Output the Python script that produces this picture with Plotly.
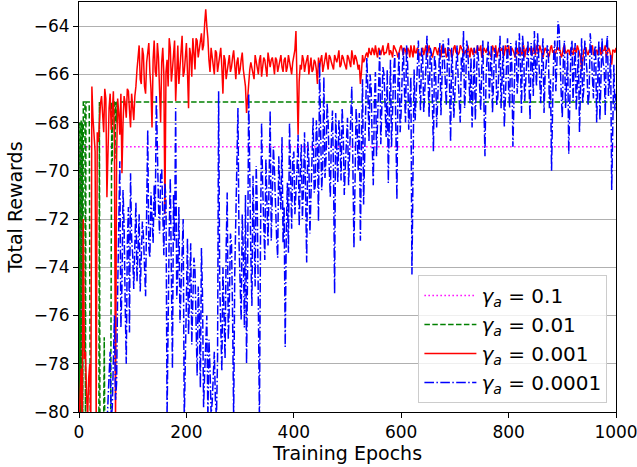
import plotly.graph_objects as go

STEP = 2

magenta_x = [0, 1, 2, 3, 4, 5, 6, 1000]
magenta_y = [-69.0, -80.5, -69.0, -80.5, -69.0, -80.5, -69.0, -69.0]

green_x = [0, 1, 2, 3, 4, 5, 6, 7, 8, 11, 12, 13, 19, 20, 21, 37, 38, 39, 46, 47, 48,
           59, 60, 61, 62, 63, 66, 67, 68, 70, 71, 78, 1000]
green_y = [-68.0, -80.5, -68.0, -80.5, -67.9, -80.5, -68.0, -80.5, -67.15, -67.15, -80.5,
           -67.15, -67.15, -76.0, -80.5, -80.5, -67.15, -80.5, -80.5, -76.9, -80.5,
           -80.5, -67.15, -67.15, -69.6, -67.15, -67.15, -69.5, -67.15, -68.0, -67.15,
           -67.15, -67.15]

# red, epochs 0, 4, 8, ... 1000
red_y_even = [
    -80.5, -78.2, -72.0, -77.5, -80.3, -78.0, -66.5, -68.7, -80.5, -68.8,
    -67.2, -68.0, -66.6, -71.1, -67.4, -68.3, -66.7, -80.5, -67.0, -68.5,
    -70.1, -66.9, -67.8, -66.7, -68.2, -67.3, -66.9, -65.8, -64.8, -66.4,
    -65.2, -66.8, -64.9, -65.9, -68.2, -64.6, -66.1, -65.3, -68.0, -64.9,
    -71.8, -65.4, -64.5, -66.3, -65.1, -67.1, -64.8, -65.6, -64.4, -65.9,
    -64.7, -67.4, -65.2, -64.5, -65.8, -64.6, -64.9, -64.3, -64.8, -63.3,
    -64.5, -65.9, -65.3, -66.0, -65.1, -65.6, -64.9, -66.8, -65.4, -65.9,
    -65.2, -65.7, -65.0, -66.2, -65.3, -65.8, -65.1, -66.1, -67.6, -66.3,
    -65.5, -66.0, -65.2, -65.8, -65.4, -66.1, -65.3, -65.9, -65.1, -65.7,
    -65.3, -66.0, -65.4, -65.6, -65.2, -65.9, -65.3, -65.7, -65.5, -66.0,
    -65.2, -64.2, -68.5, -65.6, -65.2, -65.9, -65.4, -66.0, -65.3, -65.8,
    -65.5, -66.4, -65.7, -65.2, -65.6, -65.1, -65.8, -65.3, -65.7, -65.2,
    -65.5, -65.0, -65.6, -65.3, -65.7, -65.2, -65.5, -65.0, -65.6, -65.3,
    -65.8, -66.4, -65.2, -65.4, -65.1, -64.9, -65.2, -65.0, -64.8, -65.3,
    -65.0, -64.9, -65.2, -65.1, -64.7, -65.0, -65.3, -64.9, -65.1, -65.0,
    -64.8, -65.2, -65.0, -64.9, -65.3, -65.0, -64.8, -65.1, -65.0, -65.2,
    -64.9, -65.0, -65.3, -64.8, -65.1, -65.0, -64.9, -65.2, -65.0, -64.8,
    -65.1, -65.3, -64.9, -65.0, -65.2, -64.8, -65.0, -65.1, -64.9, -65.2,
    -65.0, -64.8, -65.3, -65.0, -64.9, -65.1, -65.0, -64.8, -65.2, -65.0,
    -64.9, -65.1, -65.3, -65.0, -64.8, -65.1, -65.0, -64.9, -65.2, -65.0,
    -64.8, -65.1, -65.0, -65.3, -64.9, -65.0, -65.2, -64.8, -65.0, -65.1,
    -64.9, -65.2, -65.0, -64.8, -65.1, -65.0, -65.3, -64.9, -65.0, -65.2,
    -64.8, -65.0, -65.1, -64.9, -65.0, -65.2, -64.8, -65.1, -65.0, -64.9,
    -65.2, -65.0, -64.8, -65.1, -65.8, -65.0, -64.9, -65.2, -65.0, -64.8,
    -65.1, -65.0, -64.9, -65.2, -65.0, -64.8, -65.1, -65.0, -65.6, -65.0,
    -64.9,
]
# red, epochs 2, 6, 10, ... 998
red_y_odd = [
    -79.0, -80.5, -77.8, -79.2, -78.6, -80.4, -67.8, -69.2, -68.4, -67.9,
    -66.9, -68.4, -67.0, -68.9, -66.8, -67.6, -68.9, -69.5, -67.6, -66.8,
    -68.0, -67.2, -66.6, -67.5, -66.8, -67.9, -66.5, -65.3, -66.2, -64.9,
    -66.5, -65.5, -64.7, -66.6, -65.4, -65.9, -64.7, -66.7, -65.5, -66.0,
    -65.9, -66.5, -64.9, -65.8, -64.6, -65.7, -66.4, -65.0, -66.1, -65.3,
    -65.9, -64.9, -66.1, -65.1, -64.5, -65.3, -64.5, -65.0, -63.9, -64.0,
    -65.4, -64.9, -65.8, -65.0, -65.9, -65.2, -65.7, -65.2, -66.2, -65.4,
    -65.9, -65.3, -65.6, -65.5, -66.0, -65.4, -65.8, -66.5, -66.9, -65.8,
    -65.7, -66.2, -65.5, -66.0, -65.2, -65.7, -65.4, -66.1, -65.5, -65.4,
    -65.6, -65.3, -65.9, -65.4, -65.7, -65.4, -65.9, -65.2, -65.8, -65.5,
    -65.0, -66.0, -66.3, -65.8, -65.4, -65.6, -65.2, -65.5, -65.9, -65.4,
    -65.8, -65.3, -65.4, -65.9, -65.4, -65.5, -65.2, -65.5, -65.8, -65.4,
    -65.3, -65.7, -65.2, -65.5, -65.8, -65.3, -65.7, -65.4, -65.2, -65.5,
    -65.6, -65.9, -65.5, -65.2, -65.3, -65.1, -64.9, -65.2, -65.1, -64.9,
    -65.2, -64.8, -65.1, -64.9, -65.2, -65.1, -64.8, -65.0, -65.3, -64.9,
    -65.1, -64.9, -65.2, -65.0, -64.8, -65.3, -65.1, -64.9, -65.2, -65.0,
    -65.2, -64.8, -65.0, -65.1, -65.3, -64.9, -65.1, -64.9, -65.3, -65.1,
    -64.9, -65.2, -65.0, -65.3, -64.9, -65.1, -65.2, -64.8, -65.0, -65.1,
    -65.2, -65.0, -64.9, -65.2, -65.1, -64.8, -65.0, -65.3, -64.9, -65.1,
    -65.0, -65.2, -64.8, -65.1, -65.3, -64.9, -65.0, -65.2, -64.8, -65.1,
    -65.2, -64.9, -65.1, -65.0, -65.2, -64.9, -65.1, -65.3, -64.9, -65.0,
    -65.1, -64.9, -65.2, -65.0, -64.8, -65.2, -65.1, -65.0, -65.3, -64.9,
    -65.1, -65.2, -64.9, -65.0, -65.3, -64.9, -65.1, -65.0, -65.2, -65.1,
    -64.9, -65.1, -65.0, -65.3, -65.2, -64.9, -65.1, -65.0, -64.9, -65.2,
    -65.0, -65.2, -64.9, -65.1, -65.0, -65.3, -64.9, -65.2, -65.0, -65.1,
]

# blue, epochs 0, 4, 8, ... 1000
blue_y_even = [
    -83.0, -84.0, -82.0, -85.0, -83.0, -82.0, -84.0, -83.0, -82.0, -81.5,
    -83.0, -82.0, -81.0, -80.6, -78.5, -80.3, -77.2, -79.5, -75.0, -69.6,
    -74.8, -72.3, -78.0, -71.5, -70.1, -73.5, -72.2, -74.6, -71.8, -73.9,
    -72.7, -75.2, -68.3, -73.6, -71.9, -70.6, -66.9, -71.4, -70.2, -71.8,
    -70.5, -80.2, -72.5, -76.0, -71.0, -67.4, -74.2, -76.3, -73.1, -80.4,
    -74.5, -76.8, -73.0, -75.6, -74.1, -78.5, -76.0, -73.2, -79.8, -77.0,
    -80.3, -78.2, -79.6, -77.5, -80.2, -66.7, -76.5, -74.0, -77.8, -70.9,
    -75.5, -73.0, -80.3, -72.2, -67.4, -74.6, -71.8, -76.5, -78.0, -66.8,
    -73.5, -70.2, -74.8, -71.5, -80.4, -68.0, -72.5, -69.5, -73.1, -67.5,
    -71.2, -70.0, -72.8, -69.4, -71.6, -73.0, -77.3, -70.5, -68.0, -72.4,
    -69.2, -71.0, -68.5, -70.2, -72.0, -68.4, -73.8, -69.5, -71.2, -67.8,
    -70.6, -69.0, -65.5, -70.8, -66.1, -69.5, -68.0, -71.1, -67.5, -75.1,
    -69.0, -67.9, -70.4, -68.3, -69.8, -67.8, -69.2, -66.5, -73.2, -67.4,
    -70.0, -72.9, -66.2, -69.5, -65.3, -68.8, -66.5, -70.6, -65.9, -68.0,
    -65.0, -67.4, -66.0, -68.6, -70.5, -65.4, -67.0, -65.2, -71.2, -65.1,
    -67.5, -64.9, -68.0, -65.6, -67.0, -74.3, -65.8, -66.9, -64.6, -67.5,
    -65.3, -66.2, -64.4, -67.8, -65.1, -69.2, -65.6, -66.8, -64.7, -66.5,
    -65.2, -67.3, -64.5, -68.8, -65.8, -66.9, -64.8, -67.0, -65.3, -64.2,
    -66.6, -65.0, -67.2, -68.2, -64.9, -66.3, -65.4, -67.5, -64.6, -69.4,
    -65.5, -67.0, -64.8, -66.4, -65.1, -66.9, -64.4, -66.0, -68.2, -65.3,
    -66.6, -64.7, -69.0, -65.2, -66.8, -64.3, -67.6, -65.0, -66.2, -64.6,
    -67.9, -65.4, -64.2, -66.5, -65.1, -67.2, -64.5, -66.0, -64.8, -67.4,
    -70.0, -65.2, -66.7, -63.8, -65.9, -67.8, -64.6, -66.3, -69.3, -65.0,
    -67.1, -64.7, -66.0, -68.4, -64.5, -66.6, -65.2, -67.3, -64.3, -66.1,
    -65.0, -68.0, -64.6, -66.4, -65.5, -67.7, -64.4, -66.2, -70.8, -65.6,
    -66.8,
]
# blue, epochs 2, 6, 10, ... 998
blue_y_odd = [
    -82.5, -83.5, -84.0, -82.0, -83.0, -84.5, -82.5, -81.0, -83.5, -82.0,
    -82.5, -81.5, -80.8, -79.2, -77.5, -79.8, -76.0, -78.8, -71.5, -76.5,
    -70.8, -75.5, -73.0, -76.7, -72.8, -74.9, -71.3, -73.3, -75.0, -72.1,
    -74.0, -71.6, -73.2, -70.9, -73.0, -71.9, -70.3, -72.6, -69.9, -73.5,
    -71.2, -74.5, -70.3, -78.2, -72.9, -75.3, -71.5, -74.8, -72.0, -77.6,
    -72.8, -75.0, -77.2, -73.6, -76.4, -74.8, -79.0, -75.2, -78.4, -76.0,
    -77.0, -80.1, -78.0, -79.5, -77.8, -74.6, -78.3, -75.6, -73.3, -77.0,
    -72.6, -76.0, -74.3, -70.5, -73.0, -76.2, -73.4, -71.0, -74.0, -71.7,
    -75.6, -72.3, -69.8, -75.5, -72.8, -70.6, -73.7, -71.2, -70.4, -72.9,
    -69.0, -71.8, -73.6, -70.8, -68.6, -71.5, -72.6, -73.4, -70.1, -69.5,
    -71.8, -69.9, -72.3, -68.9, -70.7, -71.9, -68.8, -72.6, -69.3, -70.9,
    -67.9, -72.1, -68.4, -69.7, -70.3, -67.2, -69.9, -68.6, -70.2, -67.6,
    -70.5, -68.6, -67.4, -71.0, -68.9, -70.6, -68.1, -69.7, -70.5, -68.3,
    -67.6, -69.1, -71.4, -67.8, -66.7, -66.0, -68.9, -67.2, -69.4, -66.4,
    -68.9, -65.7, -67.3, -65.8, -67.7, -69.0, -65.9, -68.1, -66.3, -68.4,
    -65.9, -66.6, -64.8, -68.3, -66.1, -69.4, -67.9, -65.4, -66.4, -64.9,
    -67.6, -65.7, -66.6, -64.9, -67.1, -65.2, -68.2, -65.4, -67.7, -64.6,
    -66.0, -65.4, -66.4, -64.9, -67.8, -65.5, -66.1, -68.0, -65.9, -67.4,
    -64.6, -66.0, -65.3, -66.6, -67.9, -64.8, -66.2, -65.8, -67.2, -66.1,
    -64.6, -65.9, -67.6, -64.9, -67.3, -65.5, -67.4, -64.8, -66.7, -64.5,
    -67.4, -65.6, -66.3, -64.6, -66.0, -65.5, -64.4, -67.1, -65.3, -66.4,
    -64.7, -66.9, -65.6, -64.3, -66.3, -65.4, -67.6, -65.6, -65.0, -66.2,
    -67.3, -64.6, -65.5, -64.1, -66.8, -65.3, -67.4, -65.1, -66.5, -64.6,
    -65.7, -67.5, -65.0, -66.3, -67.2, -64.6, -65.9, -66.8, -64.9, -67.0,
    -64.8, -66.3, -67.9, -64.5, -65.8, -64.9, -66.9, -65.2, -68.6, -67.5,
]


def interleave(even, odd):
    out = []
    for i, v in enumerate(even):
        out.append(v)
        if i < len(odd):
            out.append(odd[i])
    return out


red_y = interleave(red_y_even, red_y_odd)
blue_y = interleave(blue_y_even, blue_y_odd)
red_x = list(range(0, STEP * len(red_y), STEP))
blue_x = list(range(0, STEP * len(blue_y), STEP))

labels = ["<i>γ</i><sub><i>a</i></sub> = 0.1",
          "<i>γ</i><sub><i>a</i></sub> = 0.01",
          "<i>γ</i><sub><i>a</i></sub> = 0.001",
          "<i>γ</i><sub><i>a</i></sub> = 0.0001"]

x_ticks = [0, 200, 400, 600, 800, 1000]
y_ticks = [-80, -78, -76, -74, -72, -70, -68, -66, -64]

FONT = "DejaVu Sans"

fig = go.Figure()
fig.add_trace(go.Scatter(x=magenta_x, y=magenta_y, mode="lines", name=labels[0],
                         legendgroup="a",
                         line=dict(color="#ff00ff", width=1.5, dash="1.5px,2.5px")))
fig.add_trace(go.Scatter(x=green_x, y=green_y, mode="lines", name=labels[1],
                         legendgroup="b",
                         line=dict(color="#008000", width=1.5, dash="5.5px,2.4px")))
fig.add_trace(go.Scatter(x=red_x, y=red_y, mode="lines", name=labels[2],
                         legendgroup="c",
                         line=dict(color="#ff0000", width=1.5)))
fig.add_trace(go.Scatter(x=blue_x, y=blue_y, mode="lines", name=labels[3],
                         legendgroup="d",
                         line=dict(color="#0000ff", width=1.5, dash="9.6px,2.4px,1.5px,2.4px")))

fig.update_layout(
    width=637, height=467,
    margin=dict(l=79, r=21, t=2, b=55),
    paper_bgcolor="white", plot_bgcolor="white",
    font=dict(family=FONT, size=17, color="black"),
    showlegend=True,
    legend=dict(x=0.984, y=0.022, xanchor="right", yanchor="bottom",
                bgcolor="rgba(255,255,255,0.8)", bordercolor="#cccccc", borderwidth=1,
                font=dict(family=FONT, size=20, color="black"),
                tracegroupgap=0, itemwidth=52),
    xaxis=dict(range=[0, 1000], tickvals=x_ticks, ticks="outside", ticklen=5,
               tickwidth=1, tickcolor="black", showline=True, linecolor="black",
               linewidth=1, mirror=True, showgrid=False, zeroline=False,
               automargin=False, tickfont=dict(size=17), ticklabeloverflow="allow",
               title=dict(text="Training Epochs", font=dict(size=19), standoff=4)),
    yaxis=dict(range=[-80, -63], tickvals=y_ticks, ticks="outside", ticklen=5,
               tickwidth=1, tickcolor="black", showline=True, linecolor="black",
               linewidth=1, mirror=True, showgrid=True, gridcolor="#b0b0b0",
               gridwidth=1, zeroline=False, automargin=False, tickfont=dict(size=17),
               title=dict(text="Total Rewards", font=dict(size=19), standoff=6)),
)

fig.write_html("out.html",
               config={"displayModeBar": False},
               post_script="document.body.style.margin='0';"
                           "document.body.style.overflow='hidden';")
